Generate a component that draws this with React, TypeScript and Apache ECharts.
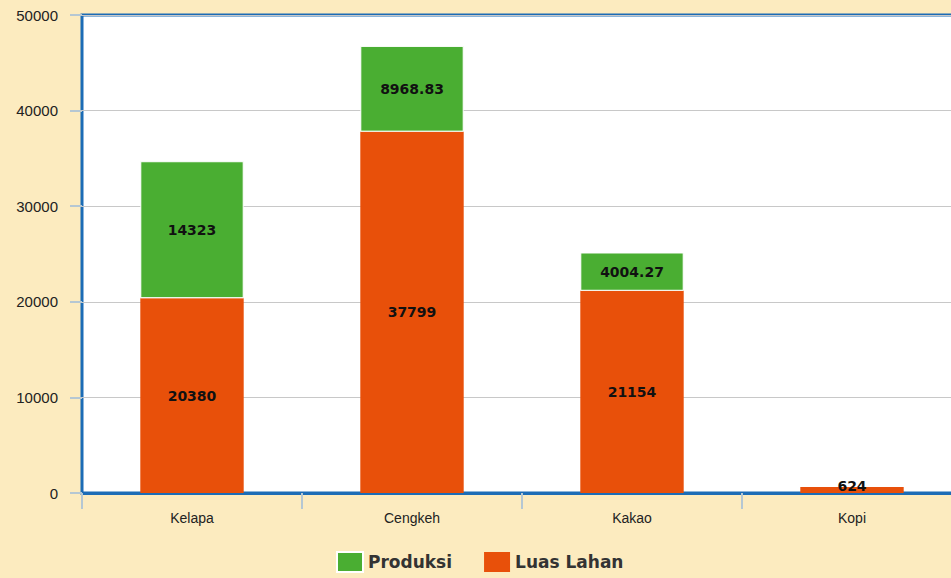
import React, { useEffect, useRef } from "react";
import * as echarts from "echarts";

const categories = ["Kelapa", "Cengkeh", "Kakao", "Kopi"];
const luasLahan = [20380, 37799, 21154, 624];
const produksi: (number | null)[] = [14323, 8968.83, 4004.27, null];
const yTicks = { min: 0, max: 50000, interval: 10000 };

export default function App() {
  const ref = useRef<HTMLDivElement>(null);
  useEffect(() => {
    if (!ref.current) return;
    const chart = echarts.init(ref.current, undefined, { renderer: "svg" });
    const labelStyle = {
      show: true,
      position: "inside" as const,
      color: "#111",
      fontSize: 14,
      fontWeight: "bold" as const,
      fontFamily: "DejaVu Sans",
    };
    const luasData = luasLahan.map((v) =>
      v < 2000 ? { value: v, label: { offset: [0, -4] } } : v
    );
    chart.setOption({
      animation: false,
      backgroundColor: "#FCEBBF",
      grid: {
        left: 82,
        top: 15,
        right: 18,
        bottom: 85,
        show: true,
        backgroundColor: "#ffffff",
        borderColor: "#1C6CB6",
        borderWidth: 3,
      },
      legend: {
        bottom: 0,
        left: 331,
        itemWidth: 26,
        itemHeight: 20,
        itemGap: 32,
        icon: "rect",
        data: ["Produksi", "Luas Lahan"],
        textStyle: { fontSize: 17, color: "#333", fontWeight: "bold", fontFamily: "DejaVu Sans" },
      },
      xAxis: {
        type: "category",
        data: categories,
        axisLine: { show: true, lineStyle: { color: "#1C6CB6", width: 3 } },
        axisTick: { show: true, length: 16, lineStyle: { color: "#B5C7D3", width: 2 } },
        axisLabel: { fontSize: 14, color: "#222", margin: 18, fontFamily: "Liberation Sans" },
      },
      yAxis: {
        type: "value",
        min: yTicks.min,
        max: yTicks.max,
        interval: yTicks.interval,
        axisLine: { show: false },
        axisTick: { show: true, length: 12, lineStyle: { color: "#B5C7D3", width: 2 } },
        axisLabel: {
          fontSize: 15,
          color: "#222",
          margin: 24,
          fontFamily: "Liberation Sans",
          formatter: (v: number) => String(v),
        },
        splitLine: { lineStyle: { color: "#C8C8C8", width: 1 } },
      },
      series: [
        {
          name: "Luas Lahan",
          type: "bar",
          stack: "total",
          data: luasData,
          barWidth: "47%",
          itemStyle: { color: "#E8500A", borderColor: "#ffffff", borderWidth: 0 },
          label: labelStyle,
        },
        {
          name: "Produksi",
          type: "bar",
          stack: "total",
          data: produksi,
          barWidth: "47%",
          itemStyle: { color: "#4AAE32", borderColor: "#ffffff", borderWidth: 1 },
          label: labelStyle,
        },
      ],
    });
    return () => chart.dispose();
  }, []);
  return (
    <div style={{ width: 951, height: 578, position: "absolute", left: 0, top: 0, overflow: "hidden" }}>
      <div ref={ref} style={{ width: 980, height: 578 }} />
    </div>
  );
}
